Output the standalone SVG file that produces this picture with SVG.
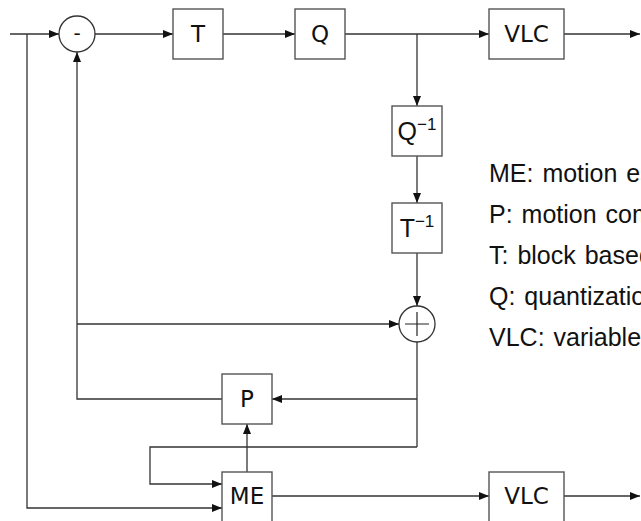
<svg xmlns="http://www.w3.org/2000/svg" width="641" height="521" viewBox="0 0 641 521">
<style>
.box{fill:#fff;stroke:#555;stroke-width:1.4}
.circ{fill:#fff;stroke:#333;stroke-width:1.3}
.lbl{font-family:"DejaVu Sans",sans-serif;font-size:23px;fill:#111;text-anchor:middle;dominant-baseline:central}
.inv{font-family:"Liberation Sans",Arial,sans-serif;font-size:25px;fill:#111;text-anchor:middle}
.leg{font-family:"Liberation Sans",Arial,sans-serif;font-size:25px;word-spacing:2px;fill:#111}
.ln{fill:none;stroke:#333;stroke-width:1.3}
.ar{fill:none;stroke:#333;stroke-width:1.3;marker-end:url(#ah)}
</style>
<defs>
<marker id="ah" viewBox="0 0 10 8" refX="10" refY="4" markerWidth="10" markerHeight="8" markerUnits="userSpaceOnUse" orient="auto">
<path d="M0,0 L10,4 L0,8 Z" fill="#111"/>
</marker>
</defs>
<rect width="641" height="521" fill="#fff"/>
<g id="connectors">
<path class="ar" d="M10,34 H59"/>
<path class="ar" d="M27,34 V508 H222"/>
<path class="ar" d="M95,34 H173"/>
<path class="ar" d="M223,34 H295"/>
<path class="ar" d="M345,34 H489"/>
<path class="ar" d="M564,34 H640"/>
<path class="ar" d="M417,34 V106"/>
<path class="ar" d="M417,156 V203"/>
<path class="ar" d="M417,253 V306"/>
<path class="ar" d="M222,399 H77 V52"/>
<path class="ar" d="M77,324 H399"/>
<path class="ln" d="M417,342 V447"/>
<path class="ar" d="M417,399 H272"/>
<path class="ar" d="M417,447 H150 V484 H222"/>
<path class="ar" d="M247,472 V424"/>
<path class="ar" d="M272,496 H489"/>
<path class="ar" d="M564,496 H640"/>
</g>
<g id="minus">
<circle class="circ" cx="77" cy="34" r="18"/>
<text class="lbl" x="77" y="33" style="font-size:20px">-</text>
</g>
<g id="T">
<rect class="box" x="173" y="9" width="50" height="50"/>
<text class="lbl" x="198" y="34">T</text>
</g>
<g id="Q">
<rect class="box" x="295" y="9" width="50" height="50"/>
<text class="lbl" x="320" y="34">Q</text>
</g>
<g id="VLC1">
<rect class="box" x="489" y="9" width="75" height="50"/>
<text class="lbl" x="526.5" y="34">VLC</text>
</g>
<g id="Qinv">
<rect class="box" x="392" y="106" width="50" height="50"/>
<text class="inv" x="417" y="140">Q<tspan font-size="17" dy="-10">−1</tspan></text>
</g>
<g id="Tinv">
<rect class="box" x="392" y="203" width="50" height="50"/>
<text class="inv" x="417" y="237">T<tspan font-size="17" dy="-10">−1</tspan></text>
</g>
<g id="plus">
<circle class="circ" cx="417" cy="324" r="18"/>
<path d="M405,324 H429 M417,312 V336" stroke="#222" stroke-width="1.2"/>
</g>
<g id="P">
<rect class="box" x="222" y="374" width="50" height="50"/>
<text class="lbl" x="247" y="399">P</text>
</g>
<g id="ME">
<rect class="box" x="222" y="472" width="50" height="50"/>
<text class="lbl" x="247" y="496">ME</text>
</g>
<g id="VLC2">
<rect class="box" x="489" y="472" width="75" height="50"/>
<text class="lbl" x="526.5" y="496">VLC</text>
</g>
<g id="legend">
<text class="leg" x="489" y="182">ME: motion estimation</text>
<text class="leg" x="489" y="223">P: motion compensation</text>
<text class="leg" x="489" y="264">T: block based transform</text>
<text class="leg" x="489" y="305">Q: quantization</text>
<text class="leg" x="489" y="346">VLC: variable length coding</text>
</g>
</svg>
